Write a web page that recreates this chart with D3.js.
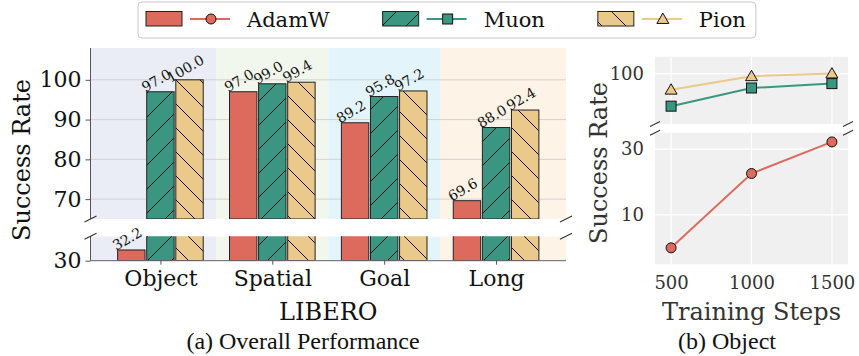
<!DOCTYPE html>
<html>
<head>
<meta charset="utf-8">
<script src="https://cdn.jsdelivr.net/npm/d3@7"></script>
<style>
  body { margin: 0; background: #fff; }
  svg { display: block; font-family: "DejaVu Serif", serif; }
</style>
</head>
<body>
<svg id="chart" width="859" height="356"></svg>
<script>
// ---- data ----
const categories = ["Object", "Spatial", "Goal", "Long"];
const seriesNames = ["AdamW", "Muon", "Pion"];
const adamwRates = [32.2, 97.0, 89.2, 69.6];
const muonRates = [97.0, 99.0, 95.8, 88.0];
const pionRates = [100.0, 99.4, 97.2, 92.4];
const upperTicks = [70, 80, 90, 100];
const lowerTicks = [30];

const steps = [500, 1000, 1500];
const adamwSteps = [0.0, 22.6, 32.2];
const muonSteps = [90.3, 95.7, 97.0];
const pionSteps = [95.2, 99.2, 100.0];
const stepUpperTicks = [100];
const stepLowerTicks = [10, 30];

// ---- styles ----
const SERIF = "DejaVu Serif, serif";
const TIMES = "Liberation Serif, serif";
const colors = ["#dc6b5d", "#3a9680", "#eac98a"];
const hatches = [null, "hatchFwd", "hatchBack"];
const markers = ["circle", "square", "triangle"];
const bandColors = ["#eaecf6", "#f2f7ed", "#e3f5fa", "#fdf3e6"];
const barData = [adamwRates, muonRates, pionRates];
const stepData = [adamwSteps, muonSteps, pionSteps];

const svg = d3.select("#chart");
const defs = svg.append("defs");

// hatch patterns
function makeHatch(id, color, d) {
  const p = defs.append("pattern").attr("id", id)
    .attr("patternUnits", "userSpaceOnUse").attr("width", 24).attr("height", 24);
  p.append("rect").attr("width", 24).attr("height", 24).attr("fill", color);
  p.append("path").attr("d", d).attr("stroke", "#111").attr("stroke-width", 1).attr("fill", "none");
}
makeHatch("hatchFwd", colors[1], "M0,24L24,0M-6,6L6,-6M18,30L30,18");
makeHatch("hatchBack", colors[2], "M0,0L24,24M-6,18L6,30M18,-6L30,6");
const fillOf = s => hatches[s] ? `url(#${hatches[s]})` : colors[s];

function clip(id, x, y, w, h) {
  defs.append("clipPath").attr("id", id).append("rect")
    .attr("x", x).attr("y", y).attr("width", w).attr("height", h);
  return `url(#${id})`;
}

function breakMark(g, cx, cy, half, color) {
  g.append("line").attr("x1", cx - half).attr("y1", cy + half / 2)
    .attr("x2", cx + half).attr("y2", cy - half / 2)
    .attr("stroke", color).attr("stroke-width", 1.1);
}

function marker(g, type, cx, cy, color) {
  if (type === "circle") {
    g.append("circle").attr("cx", cx).attr("cy", cy).attr("r", 5)
      .attr("fill", color).attr("stroke", "#111").attr("stroke-width", 1);
  } else if (type === "square") {
    g.append("rect").attr("x", cx - 5).attr("y", cy - 5).attr("width", 10).attr("height", 10)
      .attr("fill", color).attr("stroke", "#111").attr("stroke-width", 1);
  } else {
    const sym = d3.symbol().type(d3.symbolTriangle).size(62);
    g.append("path").attr("d", sym()).attr("transform", `translate(${cx},${cy + 1})`)
      .attr("fill", color).attr("stroke", "#111").attr("stroke-width", 1);
  }
}

function styleText(sel, size, fill, family) {
  return sel.style("font-family", family || SERIF).style("font-size", size + "px").attr("fill", fill);
}

// =================== (a) grouped bars with broken y axis ===================
const A = { left: 90.5, right: 566 };
const x = d3.scaleLinear().domain([-0.625, 3.625]).range([A.left, A.right]);
const panelsA = [
  { y: d3.scaleLinear().domain([65, 108]).range([219, 48]), ticks: upperTicks, id: "clipAU" },
  { y: d3.scaleLinear().domain([30, 35]).range([260.7, 236.3]), ticks: lowerTicks, id: "clipAL" }
];
const offset = 0.26, barW = x(0.245) - x(0);
const gA = svg.append("g");

panelsA.forEach(p => {
  const [d0, d1] = p.y.domain();
  const top = p.y(d1), bot = p.y(d0);
  const cp = clip(p.id, A.left, top, A.right - A.left, bot - top);
  const g = gA.append("g").attr("clip-path", cp);
  // category bands
  categories.forEach((c, i) => {
    const a = i === 0 ? x.domain()[0] : i - 0.5;
    const b = i === categories.length - 1 ? x.domain()[1] : i + 0.5;
    g.append("rect").attr("x", x(a)).attr("y", top).attr("width", x(b) - x(a))
      .attr("height", bot - top).attr("fill", bandColors[i]);
  });
  // grid
  p.ticks.forEach(t => {
    g.append("line").attr("x1", A.left).attr("x2", A.right)
      .attr("y1", p.y(t)).attr("y2", p.y(t)).attr("stroke", "#d2d2d2").attr("stroke-width", 1);
  });
  // bars
  barData.forEach((vals, s) => {
    vals.forEach((v, i) => {
      if (v <= d0) return;
      const xc = x(i + (s - 1) * offset);
      const yt = p.y(Math.min(v, d1 + 5));
      g.append("rect").attr("x", xc - barW / 2).attr("y", yt)
        .attr("width", barW).attr("height", bot - yt)
        .attr("fill", fillOf(s)).attr("stroke", "#222").attr("stroke-width", 1);
    });
  });
  // y axis
  const axis = d3.axisLeft(p.y).tickValues(p.ticks).tickSize(5).tickPadding(4).tickFormat(d3.format("d"));
  const ga = gA.append("g").attr("transform", `translate(${A.left},0)`).call(axis);
  ga.select(".domain").attr("stroke", "#555").attr("d", `M0,${top}V${bot}`);
  ga.selectAll(".tick line").attr("stroke", "#555");
  styleText(ga.selectAll(".tick text"), 22, "#111");
});

// bottom spine and category axis
const lowerY = panelsA[1].y;
const xa = d3.axisBottom(x).tickValues(d3.range(categories.length))
  .tickFormat(i => categories[i]).tickSize(4).tickPadding(6);
const gx = gA.append("g").attr("transform", `translate(0,${lowerY(30)})`).call(xa);
gx.select(".domain").attr("stroke", "#666").attr("d", `M${A.left},0H${A.right}`);
gx.selectAll(".tick line").attr("stroke", "#555");
styleText(gx.selectAll(".tick text"), 22, "#111");

// value labels: anchored at the bar's top centre (bottom of the text box), rotated 30 deg
const labelG = gA.append("g");
const LBL = 14;
barData.forEach((vals, s) => {
  vals.forEach((v, i) => {
    const p = v >= panelsA[0].y.domain()[0] ? panelsA[0] : panelsA[1];
    const xc = x(i + (s - 1) * offset);
    styleText(labelG.append("g")
      .attr("transform", `translate(${xc.toFixed(2)},${(p.y(v) - 4).toFixed(2)}) rotate(-30)`)
      .append("text").text(v.toFixed(1)), LBL, "#111")
      .attr("text-anchor", "middle").attr("dy", "-0.24em");
  });
});

// break marks
[panelsA[0].y(65), panelsA[1].y(35)].forEach(yy => {
  breakMark(gA, A.left, yy, 6, "#333");
  breakMark(gA, A.right, yy, 6, "#333");
});

styleText(gA.append("text").text("Success Rate"), 24, "#111")
  .attr("text-anchor", "middle").attr("transform", "translate(30,160) rotate(-90)");
styleText(gA.append("text").text("LIBERO"), 24, "#111")
  .attr("text-anchor", "middle").attr("x", x(1.5)).attr("y", 320);
styleText(gA.append("text").text("(a) Overall Performance"), 24, "#111", TIMES)
  .attr("text-anchor", "middle").attr("x", 303).attr("y", 349);

// =================== (b) success vs. training steps ===================
const B = { left: 655, right: 848 };
const x2 = d3.scaleLinear().domain([400, 1600]).range([B.left, B.right]);
const panelsB = [
  { y: d3.scaleLinear().domain([85, 105]).range([124, 56.7]), ticks: stepUpperTicks, id: "clipBU" },
  { y: d3.scaleLinear().domain([-5, 35]).range([264.3, 132.7]), ticks: stepLowerTicks, id: "clipBL" }
];
const gB = svg.append("g");
panelsB.forEach(p => {
  const [d0, d1] = p.y.domain();
  const top = p.y(d1), bot = p.y(d0);
  gB.append("rect").attr("x", B.left).attr("y", top).attr("width", B.right - B.left)
    .attr("height", bot - top).attr("fill", "#f0f0f0");
  steps.forEach(st => gB.append("line").attr("x1", x2(st)).attr("x2", x2(st))
    .attr("y1", top).attr("y2", bot).attr("stroke", "#fff").attr("stroke-width", 1.2));
  p.ticks.forEach(t => gB.append("line").attr("x1", B.left).attr("x2", B.right)
    .attr("y1", p.y(t)).attr("y2", p.y(t)).attr("stroke", "#fff").attr("stroke-width", 1.2));
  const ay = d3.axisLeft(p.y).tickValues(p.ticks).tickSize(0).tickPadding(11).tickFormat(d3.format("d"));
  const ga = gB.append("g").attr("transform", `translate(${B.left},0)`).call(ay);
  ga.select(".domain").remove();
  styleText(ga.selectAll(".tick text"), 18, "#333");

  const cp = clip(p.id, B.left - 8, top, B.right - B.left + 16, bot - top);
  const g = gB.append("g").attr("clip-path", cp);
  const line = d3.line().x((d, k) => x2(steps[k])).y(d => p.y(d));
  stepData.forEach((vals, s) => {
    g.append("path").attr("d", line(vals)).attr("fill", "none")
      .attr("stroke", colors[s]).attr("stroke-width", 2);
  });
  stepData.forEach((vals, s) => {
    vals.forEach((v, k) => marker(g, markers[s], x2(steps[k]), p.y(v), colors[s]));
  });
});
const bx = d3.axisBottom(x2).tickValues(steps).tickSize(0).tickPadding(12).tickFormat(d3.format("d"));
const gbx = gB.append("g").attr("transform", `translate(0,${panelsB[1].y(-5)})`).call(bx);
gbx.select(".domain").remove();
styleText(gbx.selectAll(".tick text"), 18, "#333");

[panelsB[0].y(85), panelsB[1].y(35)].forEach(yy => {
  breakMark(gB, B.left, yy, 5, "#333");
  breakMark(gB, B.right, yy, 5, "#333");
});

styleText(gB.append("text").text("Success Rate"), 24, "#333")
  .attr("text-anchor", "middle").attr("transform", "translate(607,163) rotate(-90)");
styleText(gB.append("text").text("Training Steps"), 24, "#333")
  .attr("text-anchor", "middle").attr("x", x2(1000)).attr("y", 320);
styleText(gB.append("text").text("(b) Object"), 24, "#111", TIMES)
  .attr("text-anchor", "middle").attr("x", 727).attr("y", 349);

// =================== legend ===================
const gL = svg.append("g");
const box = gL.append("rect").attr("x", 138).attr("y", 2).attr("height", 36).attr("rx", 4)
  .attr("fill", "#fff").attr("stroke", "#c8c8c8").attr("stroke-width", 1);
let lx = 146;
seriesNames.forEach((name, s) => {
  gL.append("rect").attr("x", lx).attr("y", 11.5).attr("width", 36).attr("height", 14.5)
    .attr("fill", fillOf(s)).attr("stroke", "#222").attr("stroke-width", 1);
  gL.append("line").attr("x1", lx + 44).attr("x2", lx + 84).attr("y1", 19).attr("y2", 19)
    .attr("stroke", colors[s]).attr("stroke-width", 2);
  marker(gL, markers[s], lx + 65, 19, colors[s]);
  const t = styleText(gL.append("text").text(name), 21, "#111")
    .attr("x", lx + 101).attr("y", 26.5);
  const w = t.node().getComputedTextLength();
  lx = lx + 101 + w + 53;
});
box.attr("width", lx - 53 + 10 - 138);
</script>
</body>
</html>
